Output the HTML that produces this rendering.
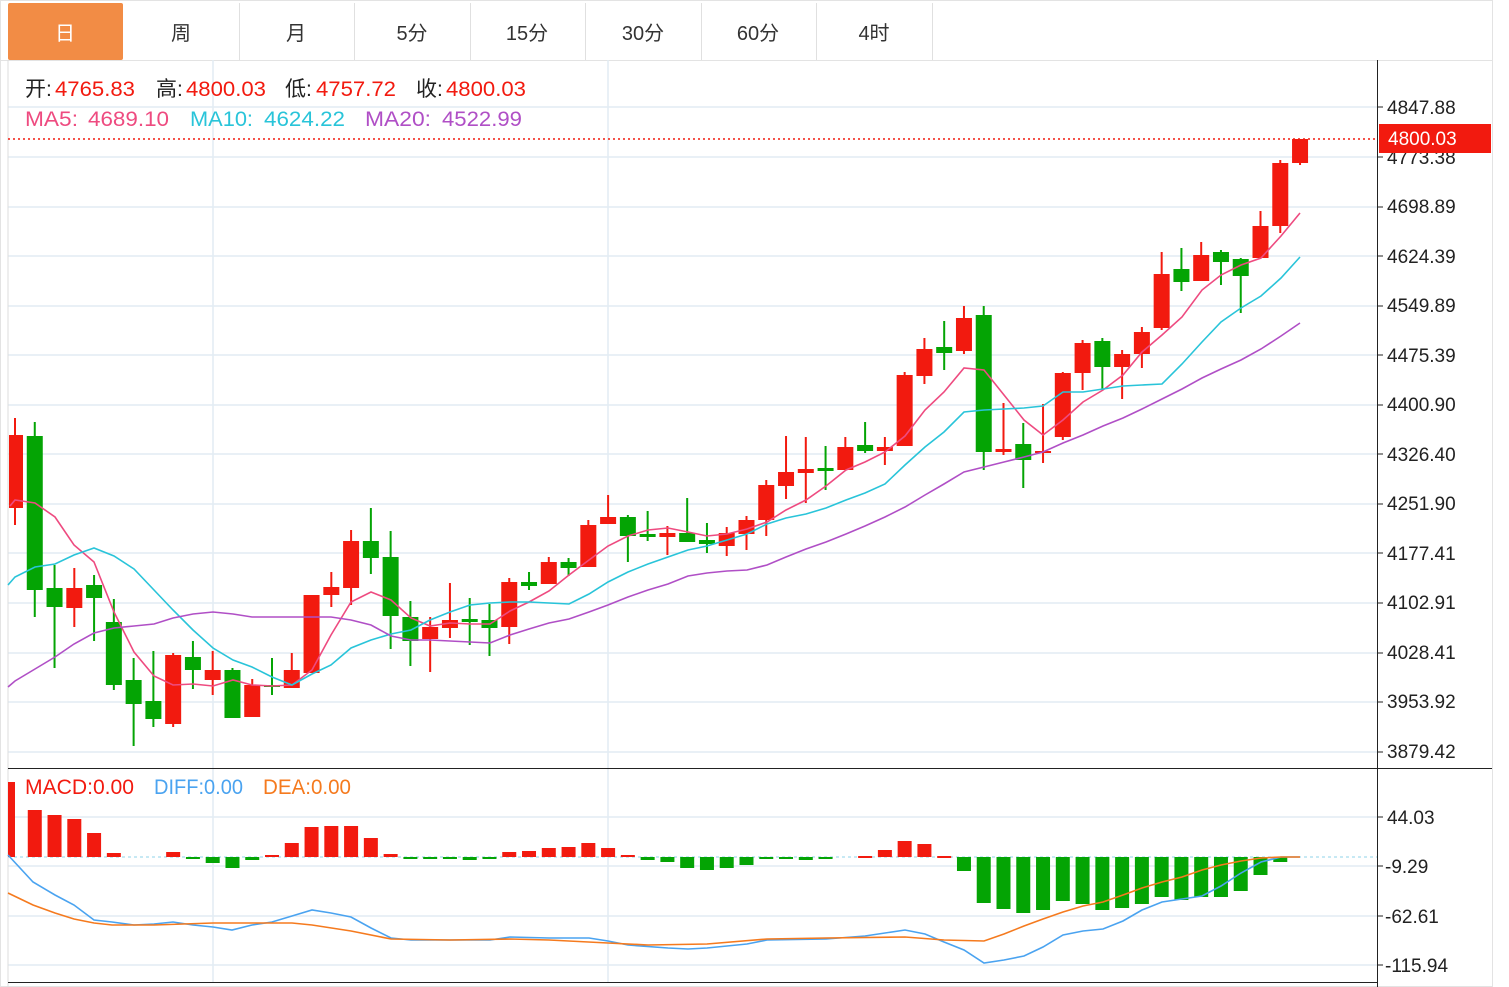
<!DOCTYPE html>
<html><head><meta charset="utf-8"><style>
body{margin:0;background:#fff;width:1509px;height:987px;overflow:hidden;font-family:"Liberation Sans","Noto Sans CJK SC",sans-serif}
</style></head><body>
<svg id="s" width="1509" height="987" xmlns="http://www.w3.org/2000/svg" style="position:absolute;left:0;top:0" font-family="Liberation Sans, Noto Sans CJK SC, sans-serif">
<rect x="0.5" y="0.5" width="1492" height="986" fill="#fff" stroke="#e3e3e3"/>
<line x1="0" y1="60.5" x2="1492" y2="60.5" stroke="#e3e3e3"/>
<rect x="8" y="3" width="115" height="57" rx="2" fill="#f28c45"/>
<g stroke="#e0e0e0"><line x1="239.5" y1="3" x2="239.5" y2="60"/><line x1="354.5" y1="3" x2="354.5" y2="60"/><line x1="470.5" y1="3" x2="470.5" y2="60"/><line x1="585.5" y1="3" x2="585.5" y2="60"/><line x1="701.5" y1="3" x2="701.5" y2="60"/><line x1="816.5" y1="3" x2="816.5" y2="60"/><line x1="932.5" y1="3" x2="932.5" y2="60"/></g>
<g font-size="20" text-anchor="middle" fill="#333"><text x="65" y="40" fill="#fff">日</text><text x="181" y="40">周</text><text x="296" y="40">月</text><text x="412" y="40">5分</text><text x="527" y="40">15分</text><text x="643" y="40">30分</text><text x="758" y="40">60分</text><text x="874" y="40">4时</text></g>
<g id="grid" stroke="#e2ecf3" stroke-width="1.5"></g>
<line x1="8" y1="60" x2="8" y2="987" stroke="#ddd"/>
<line x1="213" y1="60" x2="213" y2="982" stroke="#e2ecf3" stroke-width="1.5"/>
<line x1="608" y1="60" x2="608" y2="982" stroke="#e2ecf3" stroke-width="1.5"/>
<line x1="8" y1="768.5" x2="1492" y2="768.5" stroke="#222"/>
<line x1="8" y1="982.5" x2="1377" y2="982.5" stroke="#222"/>
<line x1="1377.5" y1="60" x2="1377.5" y2="987" stroke="#222"/>
<g id="c"></g>
<line x1="8" y1="139" x2="1377" y2="139" stroke="#f21a0f" stroke-dasharray="2,3" stroke-width="1.5"/>
<g font-size="19" fill="#222" id="ax">
<text x="1387" y="114">4847.88</text><text x="1387" y="164">4773.38</text><text x="1387" y="213">4698.89</text><text x="1387" y="263">4624.39</text><text x="1387" y="312">4549.89</text><text x="1387" y="362">4475.39</text><text x="1387" y="411">4400.90</text><text x="1387" y="461">4326.40</text><text x="1387" y="510">4251.90</text><text x="1387" y="560">4177.41</text><text x="1387" y="609">4102.91</text><text x="1387" y="659">4028.41</text><text x="1387" y="708">3953.92</text><text x="1387" y="758">3879.42</text>
<text x="1387" y="824">44.03</text><text x="1385" y="873">-9.29</text><text x="1385" y="923">-62.61</text><text x="1385" y="972">-115.94</text>
</g>
<rect x="1379" y="124" width="112" height="29" fill="#f21a0f"/>
<text x="1388" y="145" font-size="19" fill="#fff">4800.03</text>
<g font-size="21">
<text x="25" y="96" fill="#222">开:</text><text x="55" y="96" fill="#f21a0f" textLength="80" lengthAdjust="spacingAndGlyphs">4765.83</text>
<text x="156" y="96" fill="#222">高:</text><text x="186" y="96" fill="#f21a0f" textLength="80" lengthAdjust="spacingAndGlyphs">4800.03</text>
<text x="285" y="96" fill="#222">低:</text><text x="316" y="96" fill="#f21a0f" textLength="80" lengthAdjust="spacingAndGlyphs">4757.72</text>
<text x="416" y="96" fill="#222">收:</text><text x="446" y="96" fill="#f21a0f" textLength="80" lengthAdjust="spacingAndGlyphs">4800.03</text>
<text x="25" y="126" fill="#ee4b80" textLength="53" lengthAdjust="spacingAndGlyphs">MA5:</text><text x="88" y="126" fill="#ee4b80" textLength="81" lengthAdjust="spacingAndGlyphs">4689.10</text>
<text x="190" y="126" fill="#29c4d9" textLength="63" lengthAdjust="spacingAndGlyphs">MA10:</text><text x="264" y="126" fill="#29c4d9" textLength="81" lengthAdjust="spacingAndGlyphs">4624.22</text>
<text x="365" y="126" fill="#b04fc6" textLength="66" lengthAdjust="spacingAndGlyphs">MA20:</text><text x="442" y="126" fill="#b04fc6" textLength="80" lengthAdjust="spacingAndGlyphs">4522.99</text>
<text x="25" y="794" fill="#f21a0f" textLength="109" lengthAdjust="spacingAndGlyphs">MACD:0.00</text>
<text x="154" y="794" fill="#4aa3f0" textLength="89" lengthAdjust="spacingAndGlyphs">DIFF:0.00</text>
<text x="263" y="794" fill="#f57a1e" textLength="88" lengthAdjust="spacingAndGlyphs">DEA:0.00</text>
</g>
</svg>
<script>
const NS="http://www.w3.org/2000/svg";
function el(p,t,a){const e=document.createElementNS(NS,t);for(const k in a)e.setAttribute(k,a[k]);p.appendChild(e);return e;}
const g=document.getElementById('grid');
const GY=[107,157,207,256,306,355,405,454,504,553,603,653,702,752,817,866,916,965];
GY.forEach(y=>el(g,'line',{x1:8,x2:1377,y1:y,y2:y}));
const ax=document.getElementById('s');
GY.forEach(y=>el(ax,'line',{x1:1377,x2:1383,y1:y,y2:y,stroke:'#222'}));
const c=document.getElementById('c');
const C=[[1,435,508,418,525],[0,436,590,422,617],[0,588,607,565,668],[1,588,608,568,627],[0,585,598,575,641],[0,622,685,599,690],[0,680,704,658,746],[0,701,719,651,727],[1,655,724,653,727],[0,657,670,641,689],[1,670,680,651,695],[0,670,718,668,718],[1,685,717,679,717],[0,685,687,658,695],[1,670,688,653,688],[1,595,673,595,673],[1,587,595,572,607],[1,541,588,530,605],[0,541,558,508,574],[0,557,616,531,649],[0,617,641,601,666],[1,627,639,617,672],[1,620,628,583,638],[0,619,622,598,645],[0,620,628,604,656],[1,582,627,578,644],[0,582,586,572,590],[1,562,584,557,584],[0,562,568,558,576],[1,525,567,520,567],[1,517,524,495,524],[0,517,536,515,562],[0,534,537,511,541],[1,533,537,526,555],[0,533,542,498,542],[0,540,544,523,553],[1,533,546,527,556],[1,520,534,516,550],[1,485,520,480,536],[1,472,486,436,499],[1,469,473,437,503],[0,468,471,446,490],[1,447,470,437,470],[0,445,451,422,453],[1,447,451,437,465],[1,375,446,372,446],[1,349,376,338,384],[0,347,353,321,370],[1,318,351,306,354],[0,315,452,306,470],[1,449,452,403,455],[0,444,460,423,488],[1,451,453,404,463],[1,373,437,372,440],[1,343,373,340,390],[0,341,367,338,390],[1,354,367,350,399],[1,332,354,327,368],[1,274,328,252,330],[0,269,282,248,291],[1,255,281,242,281],[0,252,262,250,285],[0,259,276,258,313],[1,226,258,211,258],[1,163,226,160,233],[1,139,163,139,165]];
const M=[782,810,815,819,833,853,857,857,852,858,863,868,860,
855,843,827,826,826,838,854,
859,859,859,860,859,
852,851,848,847,843,848,855,
860,862,868,870,868,865,
859,859,860,859,857,
856,850,841,844,856,
871,903,909,913,910,901,904,910,908,904,897,900,897,897,891,875,862,857];
const X=i=>15+i*19.77;
const R='#f21a0f',G='#04a404';
el(c,'line',{x1:8,x2:1377,y1:857,y2:857,stroke:'#8fd3ea','stroke-dasharray':'3,3'});
M.slice(0,66).forEach((v,i)=>{const x=X(i);let x0=x-7,w=14;if(i==0){x0=8;w=7;}if(v==857)return;const col=v<857?R:G;const h=Math.abs(v-857);el(c,'rect',{x:x0,y:Math.min(v,857),width:w,height:Math.max(h,2),fill:col});});
C.forEach((d,i)=>{const x=X(i);const col=d[0]?R:G;let x0=x-8,w=16;if(i==0){x0=9;w=14;}
el(c,'line',{x1:x,x2:x,y1:d[3],y2:d[4],stroke:col,'stroke-width':2});
el(c,'rect',{x:x0,y:d[1],width:w,height:Math.max(d[2]-d[1],2),fill:col});});
function pl(pts,col){el(c,'polyline',{points:pts,fill:'none',stroke:col,'stroke-width':1.6});}
pl("10,506 15,500 35,503 55,517 74,545 94,562 114,612 134,652 154,676 173,685 193,684 213,686 233,680 252,685 272,686 292,685 312,670 331,635 351,602 371,592 391,600 411,618 430,626 450,623 470,624 490,624 510,611 529,602 549,591 569,575 589,560 608,546 628,536 648,530 668,528 688,532 707,536 727,534 747,529 767,522 786,510 806,500 826,486 846,470 865,462 885,452 905,436 925,410 944,392 964,368 984,370 1004,395 1024,420 1043,435 1063,420 1083,402 1103,390 1123,375 1142,352 1162,335 1182,317 1202,290 1221,275 1241,265 1261,258 1281,236 1300,213",'#ee4b80');
pl("8,585 15,577 35,567 55,564 74,555 94,548 114,556 134,569 154,590 173,610 193,630 213,648 233,660 252,667 272,677 292,685 312,674 331,665 351,648 371,640 391,634 411,630 430,620 450,612 470,605 490,603 510,602 529,602 549,603 569,604 589,594 608,582 628,572 648,564 668,557 688,550 707,546 727,540 747,534 767,524 786,518 806,514 826,508 846,500 865,493 885,484 905,465 925,447 944,432 964,412 984,410 1004,409 1024,408 1043,406 1063,392 1083,392 1103,389 1123,386 1142,385 1162,384 1182,364 1202,342 1221,322 1241,308 1261,296 1281,278 1300,257",'#29c4d9');
pl("8,687 15,681 35,669 55,657 74,644 94,633 114,628 134,626 154,624 173,618 193,614 213,612 233,614 252,617 272,617 292,617 312,617 331,617 351,620 371,625 391,636 411,640 430,640 450,641 470,642 490,643 510,635 529,629 549,623 569,619 589,612 608,605 628,597 648,590 668,584 688,576 707,573 727,571 747,570 767,565 786,557 806,549 826,542 846,534 865,526 885,517 905,507 925,495 944,484 964,472 984,467 1004,462 1024,457 1043,452 1063,443 1083,435 1103,426 1123,418 1142,409 1162,399 1182,389 1202,378 1221,369 1241,360 1261,349 1281,336 1300,323",'#b04fc6');
pl("8,855 33,882 55,895 74,905 94,920 112,922 134,925 154,924 173,922 193,925 213,927 232,930 252,925 272,922 292,916 312,910 331,913 351,917 371,928 391,938 411,940 450,940 490,940 510,937 549,938 589,938 608,941 628,945 668,948 688,949 707,948 747,944 767,940 826,939 865,936 905,930 925,934 944,942 964,950 984,963 1004,960 1024,956 1043,947 1063,935 1083,931 1103,929 1123,921 1142,910 1162,902 1182,899 1202,896 1221,886 1241,873 1261,862 1281,857 1300,857",'#4aa3f0');
pl("8,893 33,905 55,913 74,919 94,923 112,925 154,925 213,923 292,923 312,925 351,931 391,939 450,940 510,939 549,940 608,943 648,945 707,944 767,939 826,938 905,937 944,940 984,941 1004,934 1024,926 1043,919 1063,912 1083,906 1103,902 1123,895 1142,888 1162,882 1182,877 1202,870 1221,865 1241,861 1261,858 1281,857 1300,857",'#f57a1e');
</script>
</body></html>
